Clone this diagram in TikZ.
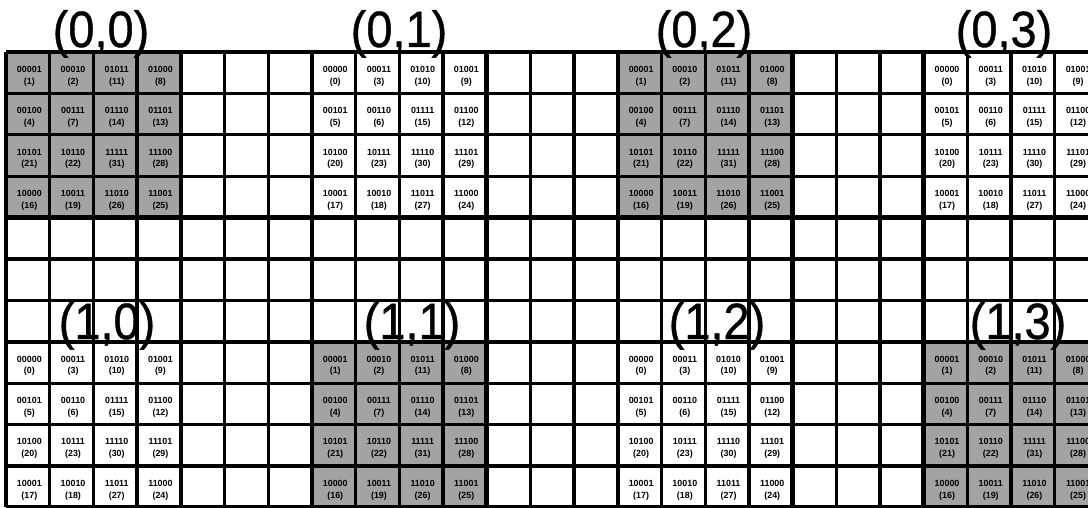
\documentclass[tikz,border=0pt]{standalone}
\usepackage{fontspec}
\setmainfont{Liberation Sans}
\newfontfamily\labfont[FakeBold=0.8]{Liberation Sans}
\begin{document}
\begin{tikzpicture}[x=1pt,y=-1pt,
  gridline/.style={line width=3.3pt,black},
  blockline/.style={line width=4.5pt,black},
  shadefill/.style={fill=black!36},
  cell/.style={align=center,inner sep=0pt,font=\bfseries\fontsize{8.9}{11.8}\selectfont},
  lab/.style={anchor=base,inner sep=0pt,xscale=0.92,font=\labfont\fontsize{51}{51}\selectfont}]
\def\cw{43.7}
\def\rh{41.4}
\useasboundingbox (0,0) rectangle (1088,508);
\clip (0,0) rectangle (1088,508);
\fill[white] (0,0) rectangle (1088,508);
% shaded blocks
\foreach \bx/\by in {0/0,14/0,7/7,21/7}{
  \fill[shadefill] ({6+\bx*\cw},{52+\by*\rh}) rectangle ({6+(\bx+4)*\cw},{52+(\by+4)*\rh});
}
% grid
\foreach \i in {0,...,25}{
  \draw[gridline] ({6+\i*\cw},52) -- ({6+\i*\cw},{52+11*\rh});
}
\foreach \j in {0,...,11}{
  \draw[gridline] (6,{52+\j*\rh}) -- ({6+25*\cw},{52+\j*\rh});
}
\foreach \i in {0,4,7,11,14,18,21,25}{
  \draw[blockline] ({6+\i*\cw},52) -- ({6+\i*\cw},{52+11*\rh});
}
\foreach \j in {0,4,7,11}{
  \draw[blockline] (6,{52+\j*\rh}) -- ({6+25*\cw},{52+\j*\rh});
}
% cell texts
\def\Slist{0/0/00001/1,0/1/00010/2,0/2/01011/11,0/3/01000/8,
1/0/00100/4,1/1/00111/7,1/2/01110/14,1/3/01101/13,
2/0/10101/21,2/1/10110/22,2/2/11111/31,2/3/11100/28,
3/0/10000/16,3/1/10011/19,3/2/11010/26,3/3/11001/25}
\def\Ulist{0/0/00000/0,0/1/00011/3,0/2/01010/10,0/3/01001/9,
1/0/00101/5,1/1/00110/6,1/2/01111/15,1/3/01100/12,
2/0/10100/20,2/1/10111/23,2/2/11110/30,2/3/11101/29,
3/0/10001/17,3/1/10010/18,3/2/11011/27,3/3/11000/24}
\foreach \bx/\by/\nm/\sh in {0/0/a/1,7/0/b/0,14/0/c/1,21/0/d/0,0/7/e/0,7/7/f/1,14/7/g/0,21/7/h/1}{
  \ifnum\sh=1 \let\lst\Slist\else\let\lst\Ulist\fi
  \foreach \r/\c/\bits/\n in \lst {
    \node[cell] (\nm\r\c) at ({6+(\bx+\c+0.5)*\cw+1.5},{52+(\by+\r)*\rh+24}) {\bits\\(\n)};
  }
}
% block labels
\node[lab] (l00) at (101,47) {(0,0)};
\node[lab] (l01) at (399,47) {(0,1)};
\node[lab] (l02) at (704,47) {(0,2)};
\node[lab] (l03) at (1004,47) {(0,3)};
\node[lab] (l10) at (107,339) {(1,0)};
\node[lab] (l11) at (412,339) {(1,1)};
\node[lab] (l12) at (717,339) {(1,2)};
\node[lab] (l13) at (1018,339) {(1,3)};
\end{tikzpicture}
\end{document}
